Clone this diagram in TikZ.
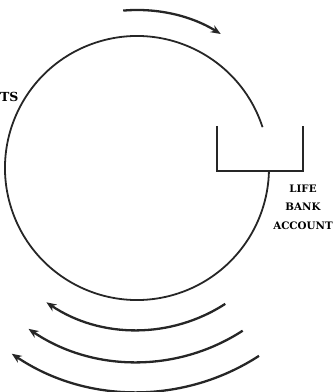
\documentclass[tikz,border=0pt]{standalone}
\usepackage{fontspec}
\usepackage{tikz}
\usetikzlibrary{arrows.meta,positioning}
\newfontfamily\labelfont{DejaVu Serif}

\begin{document}
\begin{tikzpicture}[
    x=1pt, y=1pt,
    ring/.style={line width=1.8pt, black!85},
    flow/.style={-{Stealth[length=10pt, width=8pt]}, line width=2.3pt, black!85},
    label/.style={font=\labelfont\bfseries\fontsize{10.3}{18.5}\selectfont, align=center, inner sep=0pt}
]
\useasboundingbox (0,0) rectangle (336,392);
\coordinate (c) at (137,224);

% the broken circle
\draw[ring] ([shift={(18:132)}]c) arc[start angle=18, end angle=359, radius=132];

% the account box, open at the top
\coordinate (boxtl) at (217,266);
\coordinate (boxbr) at (303,221);
\draw[ring] (boxtl) |- (boxbr) -- ++(0,45);

% flows round the circle
\draw[flow] ([shift={(95:158)}]c) arc[start angle=95, end angle=58, radius=158];
\foreach \r in {162,194,224}
  \draw[flow] ([shift={(-57:\r)}]c) arc[start angle=-57, end angle=-124, radius=\r];

\node[label, font=\labelfont\bfseries\fontsize{12.5}{14}\selectfont, anchor=west] (assets) at (0,295) {TS};
\node[label] (bank) at (303,185) {LIFE\\BANK\\ACCOUNT};
\end{tikzpicture}
\end{document}
